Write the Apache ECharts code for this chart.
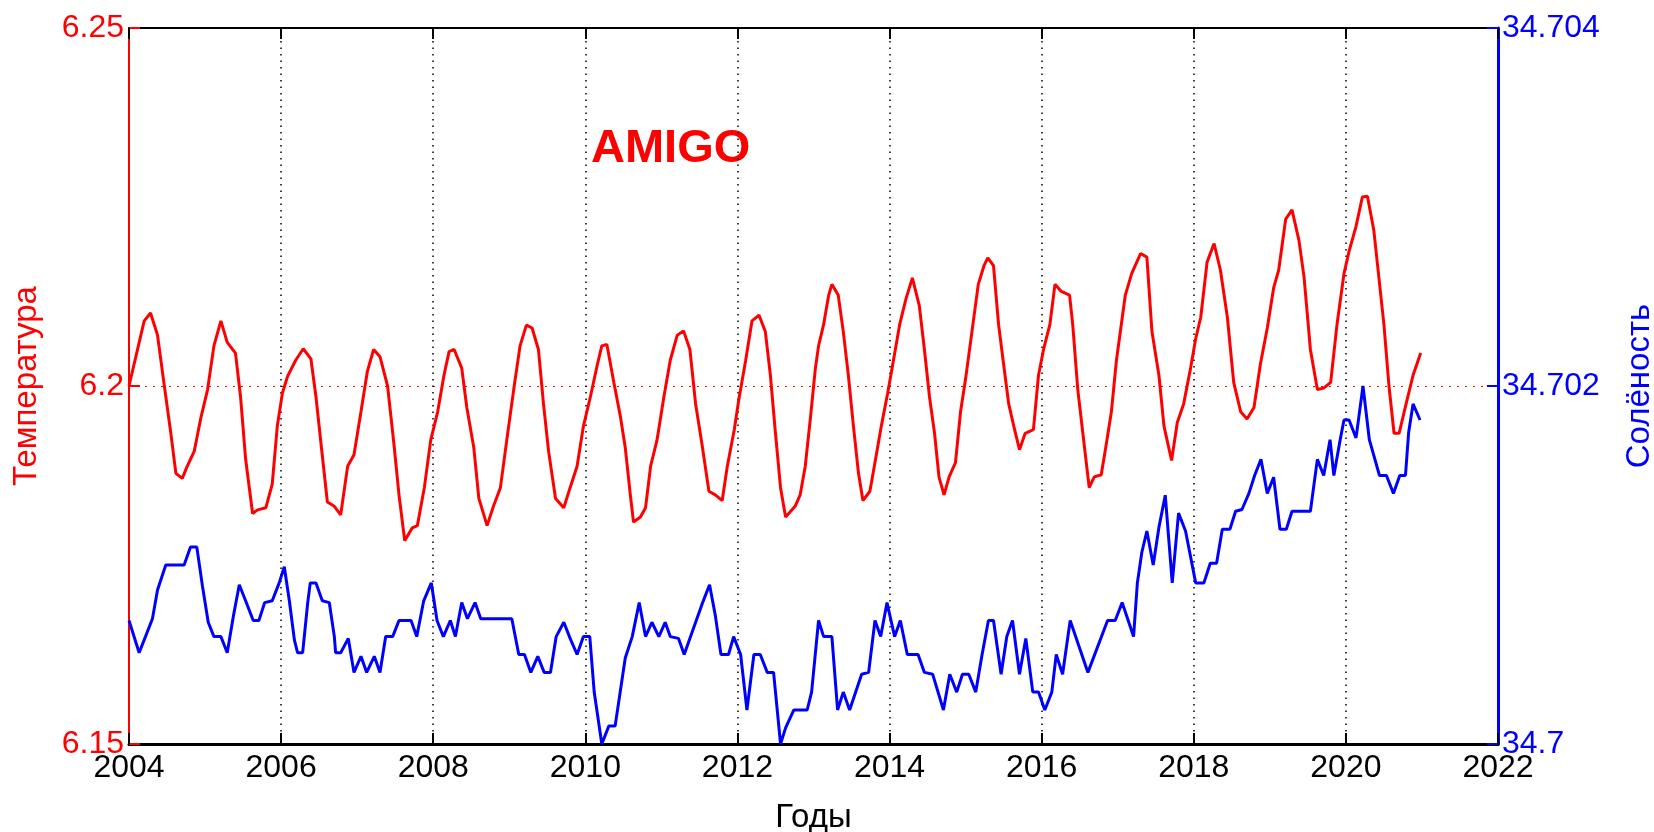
<!DOCTYPE html>
<html>
<head>
<meta charset="utf-8">
<script src="https://cdn.jsdelivr.net/npm/echarts@6.0.0/dist/echarts.min.js"></script>
<style>
html, body { margin: 0; padding: 0; background: #fff; }
#chart { width: 1654px; height: 832px; }
</style>
</head>
<body>
<div id="chart"></div>
<script>
// months since Jan 2004 and values
const tempMonth = [0,2.4,3.4,4.5,5.5,6.6,7.4,8.4,9.2,10.3,11.3,12.4,13.4,14.5,15.5,16.8,17.6,18.4,19.5,20.3,21.6,22.6,23.4,24.2,25,26.3,27.5,28.7,29.5,30.3,31.3,32.4,33.4,34.5,35.5,36.6,37.6,38.6,39.6,40.8,41.8,42.6,43.5,44.7,45.5,46.6,47.6,48.7,49.7,50.5,51.3,52.5,53.3,54.4,55.2,56.5,57.5,58.6,59.6,60.7,61.7,62.7,63.6,64.6,65.4,66.2,67.3,68.6,69.6,70.7,71.7,72.8,73.9,74.6,75.4,76.5,77.5,78.3,79.1,79.6,80.7,81.5,82.3,83.3,84.4,85.4,86.5,87.5,88.5,89.4,90.4,91.5,92.5,93.6,94.4,95.5,96.2,97.3,98.3,99.4,100.4,101.2,102,102.8,103.6,105.1,105.9,106.7,107.5,108.3,108.8,109.6,110.4,110.9,111.9,112.7,113.5,114.3,115.1,115.8,116.9,117.7,118.7,119.7,120.5,121.6,122.6,123.6,124.7,125.5,126.3,127.1,127.8,128.6,129.4,130.4,131.2,132,133,134,134.9,135.5,136.4,137.2,138,138.8,139.6,140.5,141.4,142.7,143.5,144.3,145.3,146.1,147.1,148.4,148.9,149.7,150.5,151.5,152.3,153.4,154.2,155,155.8,157.2,158.2,159.6,160.6,161.4,162.5,163.3,164.5,165.4,166.4,167.5,168.3,169.1,170.1,171.2,172.2,173.3,174.3,175.4,176.4,177.5,178.5,179.6,180.6,181.4,182.5,183.5,184.6,185.4,186.4,187.5,188.5,189.6,190.6,191.7,192.5,193.6,194.6,195.4,196.4,197.2,198,198.8,199.6,200.4,201.5,202.6,203.8]
const tempValue = [6.2000,6.2091,6.2102,6.2071,6.2005,6.1934,6.1878,6.1871,6.1888,6.1909,6.1954,6.1995,6.2056,6.2091,6.2061,6.2046,6.1985,6.1898,6.1822,6.1827,6.1830,6.1863,6.1944,6.1990,6.2013,6.2036,6.2052,6.2038,6.1985,6.1919,6.1838,6.1832,6.1820,6.1888,6.1904,6.1964,6.2020,6.2051,6.2041,6.2000,6.1919,6.1848,6.1784,6.1802,6.1805,6.1858,6.1924,6.1964,6.2015,6.2048,6.2051,6.2025,6.1970,6.1914,6.1843,6.1805,6.1832,6.1858,6.1924,6.1995,6.2056,6.2085,6.2081,6.2051,6.1975,6.1909,6.1843,6.1830,6.1858,6.1888,6.1944,6.1985,6.2030,6.2056,6.2058,6.2005,6.1959,6.1914,6.1848,6.1810,6.1817,6.1830,6.1888,6.1924,6.1985,6.2036,6.2071,6.2077,6.2051,6.1975,6.1919,6.1853,6.1848,6.1840,6.1888,6.1939,6.1980,6.2036,6.2091,6.2099,6.2076,6.2015,6.1934,6.1858,6.1817,6.1832,6.1848,6.1888,6.1954,6.2025,6.2056,6.2086,6.2127,6.2142,6.2127,6.2076,6.2015,6.1944,6.1878,6.1840,6.1853,6.1893,6.1944,6.1990,6.2030,6.2086,6.2122,6.2151,6.2112,6.2051,6.1985,6.1934,6.1873,6.1848,6.1873,6.1893,6.1964,6.2010,6.2076,6.2142,6.2168,6.2179,6.2168,6.2086,6.2030,6.1975,6.1944,6.1911,6.1934,6.1939,6.2015,6.2051,6.2086,6.2142,6.2132,6.2127,6.2086,6.1995,6.1934,6.1858,6.1873,6.1876,6.1919,6.1964,6.2036,6.2127,6.2157,6.2185,6.2180,6.2076,6.2015,6.1944,6.1896,6.1949,6.1975,6.2025,6.2066,6.2096,6.2173,6.2199,6.2162,6.2096,6.2005,6.1964,6.1954,6.1970,6.2030,6.2081,6.2137,6.2162,6.2233,6.2246,6.2203,6.2152,6.2051,6.1995,6.1997,6.2005,6.2086,6.2157,6.2188,6.2223,6.2264,6.2265,6.2218,6.2152,6.2086,6.2000,6.1934,6.1934,6.1975,6.2015,6.2046]

const salMonth = [0,1.6,2.6,3.7,4.5,5.8,8.7,9.7,10.7,11.6,12.5,13.4,14.5,15.5,16.5,17.4,18.4,19.6,20.5,21.4,22.6,23.7,24.5,25.3,26.1,26.6,27.4,28.2,28.6,29.5,30.5,31.6,32.4,32.6,33.4,34.6,35.5,36.6,37.5,38.7,39.6,40.5,41.6,42.6,44.5,45.4,46.5,47.7,48.6,49.6,50.7,51.5,52.5,53.4,54.6,55.5,60.4,61.5,62.4,63.4,64.5,65.5,66.5,67.4,68.6,69.6,70.7,71.7,72.7,73.4,74.6,75.7,76.7,77.5,78.3,79.4,80.5,81.5,82.5,83.6,84.6,85.4,86.7,87.6,88.8,90.4,91.6,92.5,93.4,94.6,95.4,96.5,97.5,98.6,99.6,100.7,101.7,102.8,103.6,104.9,107,107.7,108.8,109.6,110.9,111.8,112.7,113.7,115.6,116.7,117.7,118.6,119.6,120.8,121.7,122.8,124.5,125.5,126.8,128.5,129.5,130.6,131.5,132.5,133.6,134.6,135.6,136.4,137.6,138.5,139.4,140.5,141.5,142.6,143.5,144.5,145.6,146.3,147.3,148.5,151.3,154.4,155.6,156.7,158.5,159.1,159.8,160.6,161.6,162.5,163.5,164.6,165.6,166.7,168.3,169.6,170.6,171.6,172.5,173.7,174.6,175.6,176.7,177.6,178.6,179.6,180.6,181.6,182.6,183.5,186.4,187.5,188.5,189.5,190.1,191.1,191.7,192.5,193.6,194.7,195.7,197.3,198.4,199.5,200.5,201.4,201.9,202.6,203.7]
const salValue = [34.70069,34.70051,34.70060,34.70070,34.70086,34.70100,34.70100,34.70110,34.70110,34.70088,34.70068,34.70060,34.70060,34.70051,34.70072,34.70089,34.70080,34.70069,34.70069,34.70079,34.70080,34.70090,34.70099,34.70080,34.70058,34.70051,34.70051,34.70079,34.70090,34.70090,34.70080,34.70079,34.70060,34.70051,34.70051,34.70059,34.70040,34.70049,34.70040,34.70049,34.70040,34.70060,34.70060,34.70069,34.70069,34.70060,34.70080,34.70090,34.70069,34.70060,34.70069,34.70060,34.70079,34.70070,34.70079,34.70070,34.70070,34.70050,34.70050,34.70040,34.70049,34.70040,34.70040,34.70060,34.70068,34.70059,34.70050,34.70060,34.70060,34.70029,34.70000,34.70010,34.70010,34.70029,34.70048,34.70060,34.70079,34.70060,34.70068,34.70060,34.70068,34.70060,34.70059,34.70050,34.70062,34.70078,34.70089,34.70072,34.70050,34.70050,34.70060,34.70050,34.70019,34.70050,34.70050,34.70040,34.70040,34.70000,34.70009,34.70019,34.70019,34.70029,34.70069,34.70060,34.70060,34.70019,34.70029,34.70019,34.70039,34.70040,34.70069,34.70060,34.70079,34.70060,34.70069,34.70050,34.70050,34.70040,34.70039,34.70019,34.70039,34.70029,34.70039,34.70039,34.70029,34.70050,34.70069,34.70069,34.70039,34.70060,34.70069,34.70039,34.70059,34.70029,34.70029,34.70019,34.70029,34.70050,34.70039,34.70069,34.70040,34.70069,34.70069,34.70079,34.70060,34.70090,34.70107,34.70119,34.70100,34.70121,34.70139,34.70090,34.70129,34.70119,34.70090,34.70090,34.70101,34.70101,34.70120,34.70120,34.70130,34.70131,34.70140,34.70150,34.70159,34.70140,34.70149,34.70120,34.70120,34.70130,34.70130,34.70159,34.70150,34.70170,34.70150,34.70170,34.70181,34.70181,34.70171,34.70200,34.70170,34.70150,34.70150,34.70140,34.70150,34.70150,34.70174,34.70190,34.70181]

const startYear = 2004
const yearMin = 2004, yearMax = 2022, yearStep = 2

const font = 'Liberation Sans'
let myChart = echarts.init(document.getElementById('chart'))

let option = {
    animation: false,
    backgroundColor: '#fff',
    grid: { left: 129, right: 156, top: 28, bottom: 88, containLabel: false, outerBoundsMode: 'none' },
    graphic: [{
        type: 'text',
        left: 591,
        top: 126,
        style: { text: 'AMIGO', fill: '#ff0000', fontSize: 47, fontWeight: 'bold', fontFamily: font }
    }],
    xAxis: [
        {
            type: 'value',
            min: yearMin,
            max: yearMax,
            interval: yearStep,
            position: 'bottom',
            name: 'Годы',
            nameLocation: 'middle',
            nameGap: 57,
            nameTextStyle: { color: '#000', fontSize: 33, fontFamily: font },
            axisLine: { show: true, onZero: false, lineStyle: { color: '#000', width: 3 } },
            axisTick: { show: true, inside: true, length: 11, lineStyle: { color: '#000', width: 2 } },
            axisLabel: { color: '#000', fontSize: 32, fontFamily: font, margin: 8, formatter: v => String(v) },
            splitLine: { show: true, lineStyle: { color: '#000', width: 1.5, type: [1.5, 5] } }
        },
        {
            type: 'value',
            min: yearMin,
            max: yearMax,
            interval: yearStep,
            position: 'top',
            axisLine: { show: true, onZero: false, lineStyle: { color: '#000', width: 2 } },
            axisTick: { show: true, inside: true, length: 11, lineStyle: { color: '#000', width: 2 } },
            axisLabel: { show: false },
            splitLine: { show: false }
        }
    ],
    yAxis: [
        {
            type: 'value',
            min: 6.15,
            max: 6.25,
            interval: 0.05,
            position: 'left',
            name: 'Температура',
            nameLocation: 'middle',
            nameGap: 86,
            nameTextStyle: { color: '#ff0000', fontSize: 33, fontFamily: font },
            axisLine: { show: true, onZero: false, lineStyle: { color: '#ff0000', width: 2 } },
            axisTick: { show: true, inside: true, length: 11, lineStyle: { color: '#ff0000', width: 2 } },
            axisLabel: { color: '#ff0000', fontSize: 32, fontFamily: font, margin: 5 },
            splitLine: { show: true, lineStyle: { color: '#ff0000', width: 1.2, type: [2, 6] } }
        },
        {
            type: 'value',
            min: 34.7,
            max: 34.704,
            interval: 0.002,
            position: 'right',
            name: 'Солёность',
            nameLocation: 'middle',
            nameGap: 125,
            nameRotate: 90,
            nameTextStyle: { color: '#0000ff', fontSize: 33, fontFamily: font },
            axisLine: { show: true, onZero: false, lineStyle: { color: '#0000ff', width: 3 } },
            axisTick: { show: true, inside: true, length: 11, lineStyle: { color: '#0000ff', width: 2 } },
            axisLabel: { color: '#0000ff', fontSize: 32, fontFamily: font, margin: 4 },
            splitLine: { show: false }
        }
    ],
    series: [
        {
            name: 'Температура',
            type: 'line',
            xAxisIndex: 0,
            yAxisIndex: 0,
            data: tempMonth.map((m, i) => [startYear + m / 12, tempValue[i]]),
            showSymbol: false,
            lineStyle: { color: '#ff0000', width: 3 }
        },
        {
            name: 'Солёность',
            type: 'line',
            xAxisIndex: 0,
            yAxisIndex: 1,
            data: salMonth.map((m, i) => [startYear + m / 12, salValue[i]]),
            showSymbol: false,
            lineStyle: { color: '#0000ff', width: 3 }
        }
    ]
}
myChart.setOption(option)
window.addEventListener('resize', function () {
    myChart.resize()
})
</script>
</body>
</html>
